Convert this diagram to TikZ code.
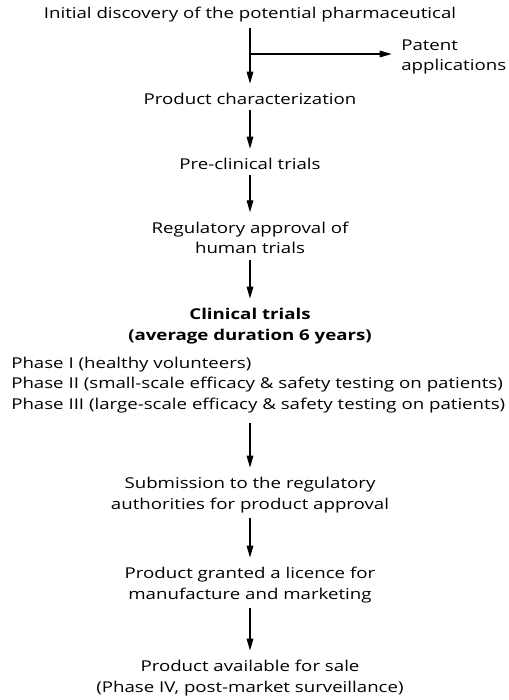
\documentclass[tikz,border=0pt]{standalone}
\usepackage{fontspec}
\setmainfont[FakeStretch=1.25]{Open Sans}
\usetikzlibrary{arrows.meta}

\begin{document}
\begin{tikzpicture}[
  x=0.75pt, y=-0.75pt,
  stage/.style={align=center, inner sep=0pt, font=\fontsize{11.2}{15.5}\selectfont},
  flow/.style={draw=black, line width=0.8pt, -{Triangle[length=9pt,width=5pt]},
               shorten <=4pt, shorten >=7pt},
]
\useasboundingbox (0,0) rectangle (508,700);

% ── Stages ──────────────────────────────────────────────────────────────
\node[stage] (discovery) at (250, 15)  {Initial discovery of the potential pharmaceutical};
\node[stage] (charact)   at (250, 99)  {Product characterization};
\node[stage] (preclin)   at (250, 164) {Pre-clinical trials};
\node[stage] (humanok)   at (250, 238) {Regulatory approval of\\human trials};
\node[stage, font=\fontsize{11.2}{15.5}\selectfont\bfseries]
                         (clinical)  at (250, 326) {Clinical trials\\(average duration 6 years)};
\node[stage, align=left, anchor=west]
                         (phases)    at (11, 385)  {Phase I (healthy volunteers)\\
                                                    Phase II (small-scale efficacy \& safety testing on patients)\\
                                                    Phase III (large-scale efficacy \& safety testing on patients)};
\node[stage] (submit)    at (250, 495) {Submission to the regulatory\\authorities for product approval};
\node[stage] (licence)   at (250, 585) {Product granted a licence for\\manufacture and marketing};
\node[stage] (sale)      at (250, 678) {Product available for sale\\(Phase IV, post-market surveillance)};

% ── Side branch ─────────────────────────────────────────────────────────
\node[stage, align=left, anchor=west] (patent) at (401, 57) {Patent\\applications};
\coordinate (branch) at (250, 54);

% ── Arrows ──────────────────────────────────────────────────────────────
\draw[flow] (discovery) -- (charact);
\draw[flow, shorten <=0pt] (branch) -- (branch -| patent.west);
\draw[flow] (charact)  -- (preclin);
\draw[flow] (preclin)  -- (humanok);
\draw[flow] (humanok)  -- (clinical);
\draw[flow, shorten <=7pt] (phases.south -| submit) -- (submit);
\draw[flow] (submit)   -- (licence);
\draw[flow] (licence)  -- (sale);

\end{tikzpicture}
\end{document}
